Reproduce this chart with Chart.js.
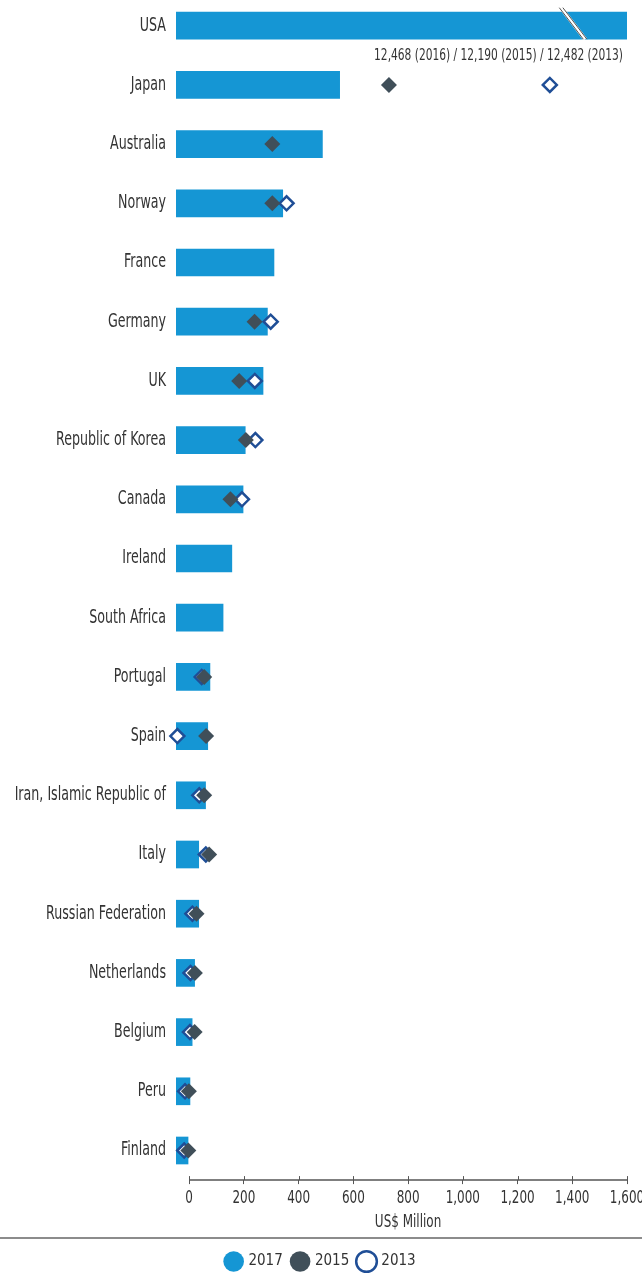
<!DOCTYPE html>
<html>
<head>
<meta charset="utf-8">
<script src="https://cdn.jsdelivr.net/npm/chart.js@4.4.1/dist/chart.umd.min.js"></script>
<style>
  html, body { margin: 0; padding: 0; background: #fff; }
  #wrap { width: 642px; height: 1283px; }
</style>
</head>
<body>
<div id="wrap"><canvas id="fdiCanvas"></canvas></div>
<script>
const FONT = "'Liberation Sans Narrow', 'DejaVu Sans Condensed', 'Roboto Condensed', sans-serif";

// countries, top to bottom
const countries = ['USA', 'Japan', 'Australia', 'Norway', 'France', 'Germany', 'UK',
    'Republic of Korea', 'Canada', 'Ireland', 'South Africa', 'Portugal', 'Spain',
    'Iran, Islamic Republic of', 'Italy', 'Russian Federation', 'Netherlands',
    'Belgium', 'Peru', 'Finland'];

// US$ million
const values2017 = [12468, 550, 487, 342, 310, 286, 270, 205, 197, 156, 124, 76, 68, 60, 35, 35, 20, 11, 3, -4];
const values2015 = [12190, 730, 304, 304, null, 239, 183, 207, 151, null, null, 55, 62, 55, 73, 27, 21, 20, -1, -3];
const values2013 = [12482, 1318, null, 356, null, 298, 240, 242, 193, null, null, 46, -43, 37, 61, 12, 5, 3, -15, -18];

const xTicks = [0, 200, 400, 600, 800, 1000, 1200, 1400, 1600];
const xMin = -48;
const xMax = 1600;
const xTitle = 'US$ Million';
const usaNote = '12,468 (2016) / 12,190 (2015) / 12,482 (2013)';

const BLUE = '#1596d4';
const SLATE = '#404f59';
const NAVY = '#1f4e96';
const TEXT = '#333';

// the original uses a very condensed face, so text is drawn squeezed
let squeeze = 1;
function squeezedText(ctx, text, x, y, align, size) {
    ctx.save();
    ctx.font = size + 'px ' + FONT;
    ctx.translate(x, y);
    ctx.scale(squeeze, 1);
    ctx.textAlign = align;
    ctx.textBaseline = 'middle';
    ctx.fillStyle = TEXT;
    ctx.fillText(text, 0, 0);
    ctx.restore();
}

const extrasPlugin = {
    id: 'extras',
    afterLayout(chart) {
        // first row sits a little above the canvas top in the original
        const ys = chart.scales.y;
        const top = -3.9;
        ys.top = top;
        ys.height = ys.bottom - top;
        chart.chartArea.top = top;
        chart.chartArea.height = chart.chartArea.bottom - top;
        ys.configure();
    },
    afterDraw(chart) {
        const ctx = chart.ctx;
        const xs = chart.scales.x;
        const ys = chart.scales.y;
        const area = chart.chartArea;

        ctx.save();
        ctx.font = '19px ' + FONT;
        squeeze = 110 / ctx.measureText('Republic of Korea').width;

        // axis line, only from 0
        ctx.strokeStyle = '#555';
        ctx.lineWidth = 1.5;
        ctx.beginPath();
        ctx.moveTo(xs.getPixelForValue(0), area.bottom);
        ctx.lineTo(xs.getPixelForValue(xMax), area.bottom);
        ctx.stroke();
        ctx.lineWidth = 1;
        xTicks.forEach(function (v) {
            const px = Math.round(xs.getPixelForValue(v)) + 0.5;
            ctx.beginPath();
            ctx.moveTo(px, area.bottom - 4);
            ctx.lineTo(px, area.bottom);
            ctx.stroke();
            squeezedText(ctx, v.toLocaleString('en-US'), xs.getPixelForValue(v), area.bottom + 18.5, 'center', 18);
        });
        squeezedText(ctx, xTitle, xs.getPixelForValue(800), area.bottom + 42.5, 'center', 18);

        // country labels
        countries.forEach(function (c, i) {
            squeezedText(ctx, c, area.left - 10, ys.getPixelForValue(i), 'right', 19);
        });

        // break mark on the USA bar
        const yc = ys.getPixelForValue(0);
        const bx = xs.getPixelForValue(1403);
        ctx.strokeStyle = '#fff';
        ctx.lineWidth = 4;
        ctx.beginPath();
        ctx.moveTo(bx - 12, yc - 18);
        ctx.lineTo(bx + 12, yc + 13.5);
        ctx.stroke();
        ctx.strokeStyle = '#555';
        ctx.lineWidth = 1;
        [-1.8, 1.8].forEach(function (dx) {
            ctx.beginPath();
            ctx.moveTo(bx - 12 + dx, yc - 18);
            ctx.lineTo(bx + 12 + dx, yc + 13.5);
            ctx.stroke();
        });

        squeezedText(ctx, usaNote, area.right - 4, yc + 30.5, 'right', 16);

        // rule above legend
        const lg = chart.legend;
        ctx.strokeStyle = '#666';
        ctx.lineWidth = 1.5;
        ctx.beginPath();
        ctx.moveTo(0, lg.top - 6);
        ctx.lineTo(chart.width, lg.top - 6);
        ctx.stroke();
        ctx.restore();
    }
};

let ctx = document.getElementById('fdiCanvas').getContext('2d');
let fdiChart = new Chart(ctx, {
    type: 'bar',
    data: {
        labels: countries,
        datasets: [{
            label: '2017',
            data: values2017,
            base: xMin,
            backgroundColor: BLUE,
            borderWidth: 0,
            barThickness: 27,
            order: 2
        }, {
            type: 'line',
            label: '2015',
            data: values2015,
            indexAxis: 'y',
            showLine: false,
            clip: false,
            pointStyle: 'rectRot',
            pointRadius: 8,
            pointBorderWidth: 0,
            pointBackgroundColor: SLATE,
            pointBorderColor: SLATE,
            backgroundColor: SLATE,
            borderColor: SLATE,
            order: 0
        }, {
            type: 'line',
            label: '2013',
            data: values2013,
            indexAxis: 'y',
            showLine: false,
            clip: false,
            pointStyle: 'rectRot',
            pointRadius: 7,
            pointBorderWidth: 2.5,
            pointBackgroundColor: '#fff',
            pointBorderColor: NAVY,
            backgroundColor: '#fff',
            borderColor: NAVY,
            borderWidth: 2.5,
            order: 1
        }]
    },
    options: {
        indexAxis: 'y',
        responsive: true,
        maintainAspectRatio: false,
        animation: false,
        layout: {
            padding: { top: 0, right: 0, bottom: 4, left: 0 }
        },
        scales: {
            x: {
                type: 'linear',
                min: xMin,
                max: xMax,
                afterBuildTicks: function (scale) {
                    scale.ticks = xTicks.map(function (v) { return { value: v }; });
                },
                afterFit: function (scale) {
                    scale.paddingRight = 15;
                    scale.paddingLeft = 0;
                },
                grid: {
                    drawOnChartArea: false,
                    tickLength: 4,
                    color: '#555'
                },
                border: { display: false },
                // labels and title are drawn squeezed by the plugin; these keep the space
                ticks: {
                    color: 'rgba(0,0,0,0)',
                    font: { family: FONT, size: 16 },
                    padding: 4,
                    maxRotation: 0,
                    callback: function (v) { return v.toLocaleString('en-US'); }
                },
                title: {
                    display: true,
                    text: xTitle,
                    color: 'rgba(0,0,0,0)',
                    font: { family: FONT, size: 16 },
                    padding: { top: 0, bottom: 13.5 }
                }
            },
            y: {
                grid: { display: false },
                border: { display: false },
                afterFit: function (scale) {
                    scale.width = 176;
                    scale.paddingTop = 0;
                    scale.paddingBottom = 0;
                },
                ticks: { display: false }
            }
        },
        plugins: {
            legend: {
                position: 'bottom',
                labels: {
                    usePointStyle: true,
                    pointStyle: 'circle',
                    boxWidth: 14.6,
                    boxHeight: 14.6,
                    padding: 10,
                    color: TEXT,
                    font: { family: FONT, size: 15 },
                    sort: function (a, b) { return a.datasetIndex - b.datasetIndex; }
                }
            },
            tooltip: { enabled: false }
        }
    },
    plugins: [extrasPlugin]
});
</script>
</body>
</html>
